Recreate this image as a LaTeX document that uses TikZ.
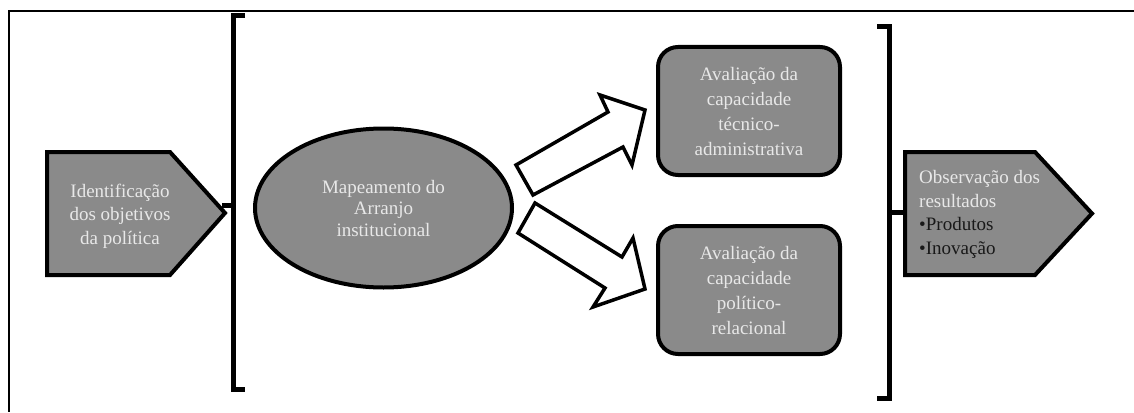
\documentclass[tikz,border=0pt]{standalone}
\usepackage{fontspec}
\setmainfont{Liberation Serif}
\usetikzlibrary{shapes.geometric}
\definecolor{boxfill}{RGB}{138,138,138}
\definecolor{boxtext}{RGB}{232,232,232}
\definecolor{darktext}{RGB}{25,25,25}

\begin{document}
\begin{tikzpicture}[x=1pt,y=-1pt,
  shapeline/.style={draw=black, line width=4pt, fill=boxfill, line join=miter},
  boxlabel/.style={text=boxtext, font=\fontsize{19}{23.5}\selectfont, align=center, inner sep=0pt},
  brk/.style={line width=5pt, line join=miter},
  blockarrow/.style={draw=black, fill=white, line width=3.5pt, line join=miter},
  rbox/.style={shapeline, rectangle, rounded corners=20pt, minimum width=182pt, minimum height=128pt,
    text=boxtext, font=\fontsize{19}{25}\selectfont, align=center, inner sep=0pt}]
\useasboundingbox (0,0) rectangle (1134,412);

% frame
\draw[line width=1.5pt] (1134,11) -- (9,11) -- (9,412);

% first step: pentagon
\draw[shapeline] (47,152) -- (170,152) -- (225,213) coordinate (identtip) -- (170,275) -- (47,275) -- cycle;
\node[boxlabel] (ident) at (120,216) {Identificação\\dos objetivos\\da política};

% opening bracket
\draw[brk] (245,16) -- (233,16) coordinate (lbtop) -- (233,389) -- (245,389);
\coordinate (lbmid) at (233,205);
\draw[brk] (lbmid) -- (222,205);

% mapping ellipse
\node[ellipse, shapeline, minimum width=257pt, minimum height=159pt,
      boxlabel, font=\fontsize{19}{21.5}\selectfont] (mapa) at (383.5,208) {Mapeamento do\\Arranjo\\institucional};

% capacity boxes
\node[rbox] (tecnica) at (749,111) {Avaliação da\\capacidade\\técnico-\\administrativa};
\node[rbox] (politica) at (749,290) {Avaliação da\\capacidade\\político-\\relacional};

% block arrows
\draw[blockarrow] (516,165) -- (608,112) -- (600,95) -- (645,110) -- (632,165) -- (623,147) -- (533,195) -- cycle;
\draw[blockarrow] (535,203) -- (622,257) -- (633,238) -- (645,289) -- (593,307) -- (605,288) -- (518,233) -- cycle;

% closing bracket
\draw[brk] (877,27) -- (889,27) -- (889,398) -- (877,398);
\coordinate (rbmid) at (889,212);
\draw[brk] (rbmid) -- (905,212);

% results pentagon
\draw[shapeline] (905,152) -- (1035,152) -- (1092,213.5) -- (1035,275) -- (905,275) -- cycle;
\node[boxlabel, align=left, anchor=west] (obs) at (919,214.5)
  {Observação dos\\resultados\\\textcolor{darktext}{•Produtos}\\\textcolor{darktext}{•Inovação}};
\end{tikzpicture}
\end{document}
